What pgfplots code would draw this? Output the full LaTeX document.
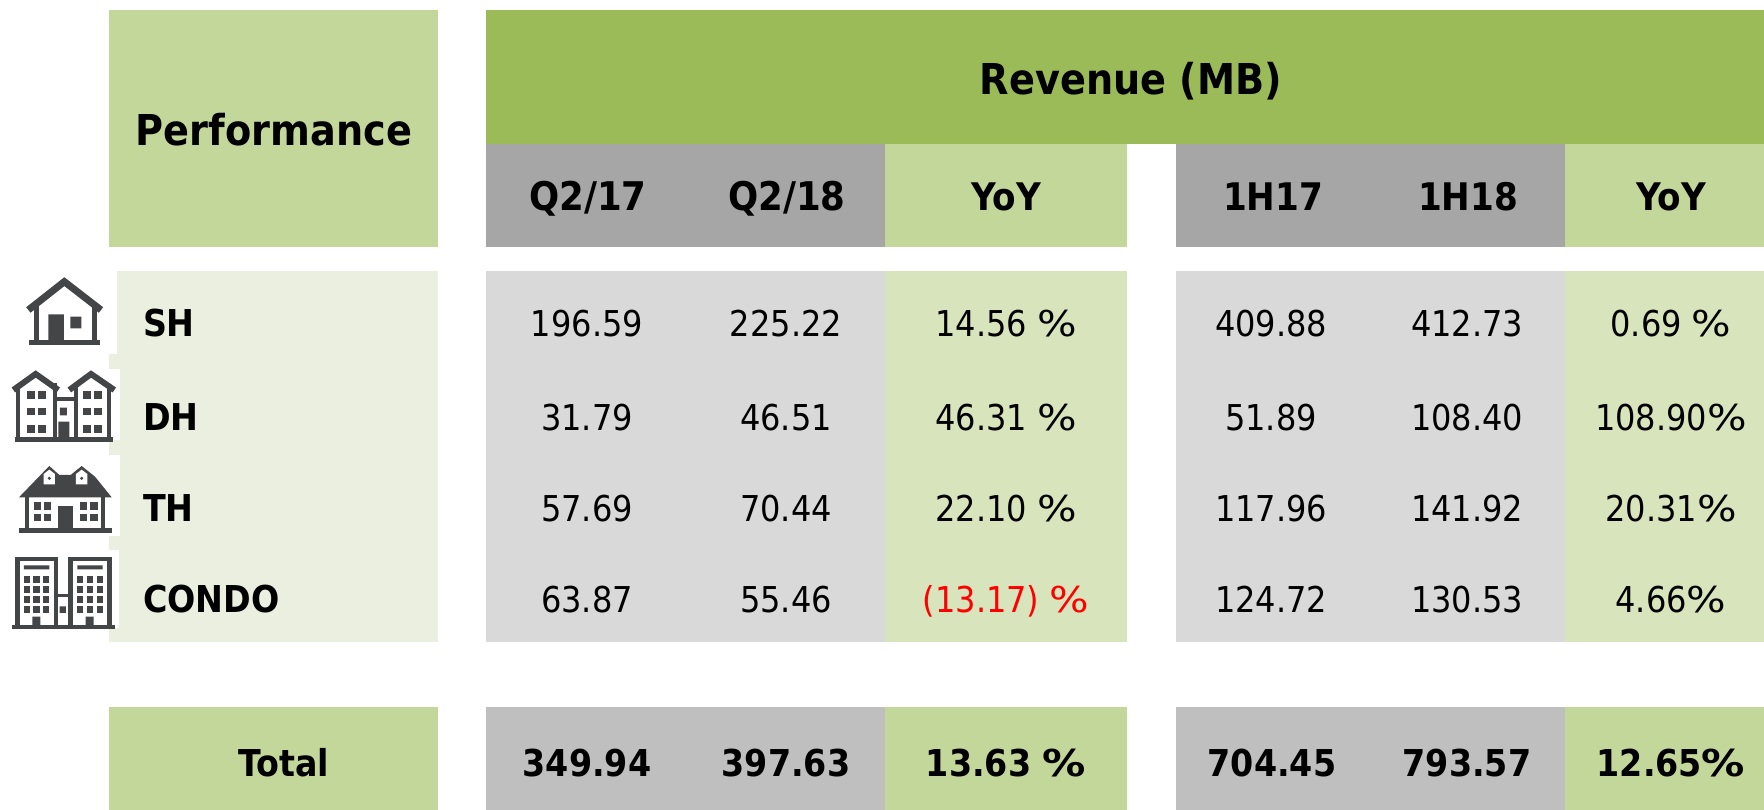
\documentclass[border=0pt]{standalone}
\usepackage{fontspec}
\setmainfont{DejaVu Sans Condensed}
\usepackage{graphicx}
\usepackage{pgfplots}
\usepackage{pgfplotstable}
\pgfplotsset{compat=1.18}

\definecolor{hdrgreen}{HTML}{9BBB59}
\definecolor{midgreen}{HTML}{C4D79B}
\definecolor{lightgreen}{HTML}{D8E4BC}
\definecolor{palegreen}{HTML}{EBEFDF}
\definecolor{dkgray}{HTML}{A6A6A6}
\definecolor{ltgray}{HTML}{D9D9D9}
\definecolor{totgray}{HTML}{BFBFBF}
\definecolor{ic}{HTML}{444547}

% cell: colour, x0, x1, y0, y1 (pixels of the reference)
\newcommand{\cell}[5]{\addplot[fill=#1,draw=none,mark=none,forget plot] coordinates {(#2,#4)(#3,#4)(#3,#5)(#2,#5)} -- cycle;}
% the percent sign of the reference is wider than this font's
\protected\def\pc{\scalebox{1.3}[1]{\%}}
\newcommand{\fs}[1]{\fontsize{#1}{#1}\selectfont}

% labels: x, baseline y, text
\pgfplotstableread{
x y label
274 146 Performance
1131 95 {Revenue (MB)}
}\titlelabels

\pgfplotstableread{
x y label
588 211 Q2/17
787 211 Q2/18
}\quarterlabels

\pgfplotstableread{
x y label
1006 211 YoY
1273 211 1H17
1468 211 1H18
1671 211 YoY
}\headlabels

\pgfplotstableread{
x y label
284 776 Total
587 776 349.94
786 776 397.63
1006 776 {13.63 \pc}
1272 776 704.45
1467 776 793.57
1671 776 12.65\pc
}\totallabels

\pgfplotstableread{
x y label
587 336 196.59
786 336 225.22
1006 336 {14.56 \pc}
1271 336 409.88
1467 336 412.73
1671 336 {0.69 \pc}
587 430 31.79
786 430 46.51
1006 430 {46.31 \pc}
1271 430 51.89
1467 430 108.40
1671 430 108.90\pc
587 521 57.69
786 521 70.44
1006 521 {22.10 \pc}
1271 521 117.96
1467 521 141.92
1671 521 20.31\pc
587 612 63.87
786 612 55.46
1271 612 124.72
1467 612 130.53
1671 612 4.66\pc
}\bodylabels

\pgfplotstableread{
x y label
1006 612 {(13.17) \pc}
}\redlabels

\pgfplotstableread{
x y label
143 336 SH
143 430 DH
143 521 TH
143 612 CONDO
}\rowlabels

\begin{document}
\begin{tikzpicture}
\path (0pt,0pt) rectangle (1764pt,810pt);
\begin{axis}[
  x=1pt, y=1pt,
  y dir=reverse,
  xmin=0, xmax=1764, ymin=0, ymax=810,
  hide axis, clip=false,
  every node near coord/.style={anchor=base, inner sep=0pt, outer sep=0pt},
  lbl/.style={draw=none, mark=none, forget plot, nodes near coords,
    point meta=explicit symbolic},
]
% header
\cell{midgreen}{109}{438}{10}{247}
\cell{hdrgreen}{486}{1764}{10}{144}
\cell{dkgray}{486}{885}{144}{247}
\cell{midgreen}{885}{1127}{144}{247}
\cell{dkgray}{1176}{1565}{144}{247}
\cell{midgreen}{1565}{1764}{144}{247}
% body
\cell{palegreen}{117}{438}{271}{354}
\cell{palegreen}{109}{438}{354}{369}
\cell{palegreen}{120}{438}{369}{440}
\cell{palegreen}{109}{438}{440}{455}
\cell{palegreen}{120}{438}{455}{536}
\cell{palegreen}{109}{438}{536}{550}
\cell{palegreen}{119}{438}{550}{628}
\cell{palegreen}{109}{438}{628}{642}
\cell{ltgray}{486}{885}{271}{642}
\cell{lightgreen}{885}{1127}{271}{642}
\cell{ltgray}{1176}{1565}{271}{642}
\cell{lightgreen}{1565}{1764}{271}{642}
% total
\cell{midgreen}{109}{438}{707}{810}
\cell{totgray}{486}{885}{707}{810}
\cell{midgreen}{885}{1127}{707}{810}
\cell{totgray}{1176}{1565}{707}{810}
\cell{midgreen}{1565}{1764}{707}{810}
% text
\addplot[lbl, nodes near coords style={font=\fs{42.5}\bfseries}] table[meta=label] {\titlelabels};
\addplot[lbl, nodes near coords style={font=\fs{39.5}\bfseries}] table[meta=label] {\quarterlabels};
\addplot[lbl, nodes near coords style={font=\fs{38}\bfseries}] table[meta=label] {\headlabels};
\addplot[lbl, nodes near coords style={font=\fs{37}\bfseries}] table[meta=label] {\totallabels};
\addplot[lbl, nodes near coords style={font=\fs{35.6}}] table[meta=label] {\bodylabels};
\addplot[lbl, nodes near coords style={font=\fs{35.6},text=red}] table[meta=label] {\redlabels};
\addplot[lbl, nodes near coords style={font=\fs{37}\bfseries,anchor=base west}] table[meta=label] {\rowlabels};
\end{axis}
% icons, in pixels of the 3x crop of the left column
\begin{scope}[shift={(0pt,550pt)},x=0.33333pt,y=-0.33333pt]
% SH
\draw[ic,line width=7pt,miter limit=2] (85,150)--(193,65)--(303,150);
\draw[ic,line width=5pt] (110,130)--(110,245) (285,130)--(285,245);
\draw[ic,line width=5.5pt] (88,248)--(300,248);
\fill[ic] (145,163) rectangle (192,245) (211,170) rectangle (244,205);
% DH
\draw[ic,line width=6pt] (40,390)--(107,342)--(175,390) (208,390)--(273,342)--(343,390);
\draw[ic,line width=4pt] (55,380)--(55,535) (165,370)--(165,535) (228,370)--(228,535) (328,380)--(328,535) (160,418)--(232,418);
\draw[ic,line width=5pt] (45,538)--(338,538);
\foreach \yy in {393,443,495} {
  \foreach \xx in {81,114,249,282} {\fill[ic] (\xx,\yy) rectangle ++(23,23);}
}
\fill[ic] (180,443) rectangle (201,466) (175,485) rectangle (208,535);
% TH
\fill[ic] (57,712)--(112,655)--(148,618)--(178,645)--(212,645)--(245,618)--(285,650)--(335,712)--cycle;
\foreach \xx in {148,245} {
  \fill[white] (\xx-17,642)--(\xx,629)--(\xx+17,642)--(\xx+17,673)--(\xx-17,673)--cycle;
  \fill[ic] (\xx,655) circle (5);
}
\draw[ic,line width=4pt] (82,712)--(82,810) (310,712)--(310,810);
\draw[ic,line width=4.5pt] (58,812)--(335,812);
\fill[ic] (175,738) rectangle (218,810);
\foreach \yy in {727,762} {
  \foreach \xx in {102,132,240,271} {\fill[ic] (\xx,\yy) rectangle ++(22,22);}
}
% CONDO
\draw[ic,line width=4.5pt] (52,1100)--(52,897)--(168,897)--(168,1100) (212,1100)--(212,897)--(328,897)--(328,1100);
\draw[ic,line width=3.5pt] (168,1007)--(212,1007);
\draw[ic,line width=4pt] (35,1101)--(345,1101);
\fill[ic] (72,916) rectangle (148,928) (232,916) rectangle (308,928);
\foreach \yy in {949,979,1009,1039} {
  \foreach \xx in {71,100,129,231,261,290} {\fill[ic] (\xx,\yy) rectangle ++(19,19);}
}
\fill[ic] (179,1039) rectangle (198,1059) (97,1070) rectangle (121,1098) (257,1070) rectangle (281,1098);
\end{scope}
\end{tikzpicture}
\end{document}
